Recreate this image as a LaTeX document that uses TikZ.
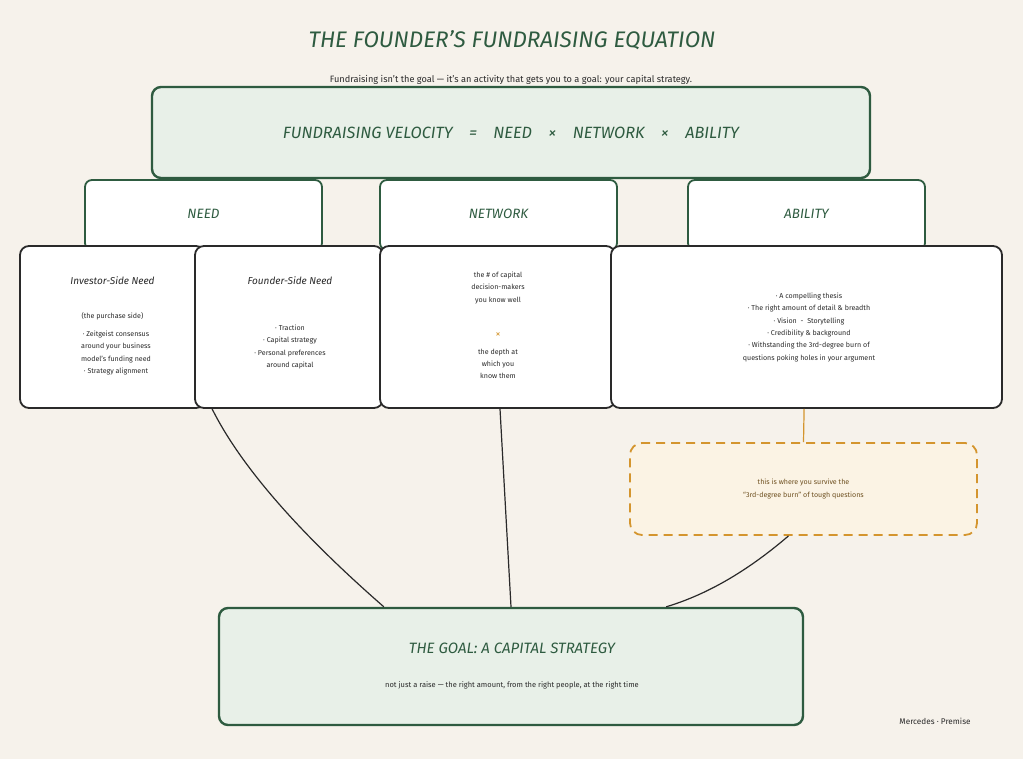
\documentclass[tikz,border=0pt]{standalone}
\usepackage{fontspec}
\setmainfont{Fira Sans}
\usetikzlibrary{positioning}
\definecolor{cbg}{HTML}{F6F2EB}
\definecolor{cgreen}{HTML}{2E5B40}
\definecolor{cgreenl}{HTML}{E8F0E8}
\definecolor{cink}{HTML}{2A2A2A}
\definecolor{corange}{HTML}{D4952E}
\definecolor{corangel}{HTML}{FBF3E4}
\definecolor{cbrown}{HTML}{6E5020}
\tikzset{
  every picture/.style={line width=1.6pt},
  panel/.style={draw=cgreen, fill=cgreenl, rounded corners=9pt, line width=2.4pt, inner sep=0pt},
  head/.style={draw=cgreen, fill=white, rounded corners=7pt, line width=1.8pt, inner sep=0pt},
  card/.style={draw=cink, fill=white, rounded corners=9pt, line width=1.8pt, inner sep=0pt},
  callout/.style={draw=corange, fill=corangel, rounded corners=12pt, dash pattern=on 9pt off 6pt, line width=1.8pt, inner sep=0pt},
  headtext/.style={text=cgreen, font=\itshape\fontsize{13.5}{15}\selectfont},
  body/.style={text=cink, align=center, inner sep=0pt, font=\fontsize{7.1}{12.4}\selectfont},
  cardtitle/.style={text=cink, inner sep=0pt, font=\itshape\fontsize{10}{12}\selectfont},
  link/.style={draw=cink, line width=1.2pt},
}
\begin{document}
\begin{tikzpicture}[x=1pt, y=-1pt]
  \fill[cbg] (0,0) rectangle (1023,759);
  \useasboundingbox (0,0) rectangle (1023,759);
  % title and subtitle
  \node[text=cgreen, font=\itshape\fontsize{22.5}{26}\selectfont] (title) at (512,40) {THE FOUNDER'S FUNDRAISING EQUATION};
  \node[text=cink, font=\fontsize{9.2}{11}\selectfont] (sub) at (511,80) {Fundraising isn't the goal — it's an activity that gets you to a goal: your capital strategy.};
  % equation panel
  \node[panel, minimum width=718pt, minimum height=91pt] (eq) at (511,132.5) {};
  \node[text=cgreen, font=\itshape\fontsize{16.3}{19}\selectfont] (eqtext) at (eq) {FUNDRAISING VELOCITY\quad=\quad NEED\quad ×\quad NETWORK\quad ×\quad ABILITY};
  % factor headers (bottoms hidden behind the cards)
  \node[head, minimum width=237pt, minimum height=70pt] (hneed) at (203.5,215) {};
  \node[head, minimum width=237pt, minimum height=70pt] (hnet) at (498.5,215) {};
  \node[head, minimum width=237pt, minimum height=70pt] (hab) at (806.5,215) {};
  \node[headtext] (tneed) at (203.5,214) {NEED};
  \node[headtext] (tnet) at (498.5,214) {NETWORK};
  \node[headtext] (tab) at (806.5,214) {ABILITY};
  % cards
  \node[card, minimum width=185pt, minimum height=162pt] (inv) at (112.5,327) {};
  \node[card, minimum width=188pt, minimum height=162pt] (fnd) at (289,327) {};
  \node[card, minimum width=235pt, minimum height=162pt] (net) at (497.5,327) {};
  \node[card, minimum width=391pt, minimum height=162pt] (abl) at (806.5,327) {};
  % investor side
  \node[cardtitle] (invtitle) at (112.5,281) {Investor-Side Need};
  \node[body] (invsub) at (112.5,316) {(the purchase side)};
  \node[body, anchor=north] (invlist) at (116,330) {· Zeitgeist consensus\\ around your business\\ model's funding need\\ · Strategy alignment};
  % founder side
  \node[cardtitle] (fndtitle) at (290,281) {Founder-Side Need};
  \node[body, anchor=north] (fndlist) at (290,324) {· Traction\\ · Capital strategy\\ · Personal preferences\\ around capital};
  % network
  \node[body, anchor=north] (netone) at (498,271) {the \# of capital\\ decision-makers\\ you know well};
  \node[text=corange, inner sep=0pt, font=\fontsize{10}{11}\selectfont] (nettimes) at (498,335) {×};
  \node[body, anchor=north] (nettwo) at (498,348) {the depth at\\ which you\\ know them};
  % ability
  \node[body, anchor=north] (abllist) at (809,292) {· A compelling thesis\\ · The right amount of detail \& breadth\\ · Vision \ - \ Storytelling\\ · Credibility \& background\\ · Withstanding the 3rd-degree burn of\\ questions poking holes in your argument};
  % callout
  \node[callout, minimum width=347pt, minimum height=92pt] (burn) at (803.5,489) {};
  \node[body, text=cbrown] (burntext) at (burn) {this is where you survive the\\ “3rd-degree burn” of tough questions};
  \draw[corange, line width=1.2pt] ([xshift=194pt]abl.south west) -- (burn.north);
  % goal
  \node[panel, minimum width=584pt, minimum height=117pt] (goal) at (511,666.5) {};
  \node[text=cgreen, font=\itshape\fontsize{15}{18}\selectfont] (goaltitle) at (512,648) {THE GOAL: A CAPITAL STRATEGY};
  \node[text=cink, font=\fontsize{7.5}{9}\selectfont] (goalsub) at (512,685) {not just a raise — the right amount, from the right people, at the right time};
  % connectors into the goal
  \draw[link] ([xshift=18pt]fnd.south west) .. controls +(28,56) and +(-87,-76) .. ([xshift=166pt]goal.north west);
  \draw[link] ([xshift=2.5pt]net.south) -- ([xshift=0pt]goal.north);
  \draw[link] ([xshift=-15pt]burn.south) .. controls +(-42,36) and +(40,-12) .. ([xshift=-138pt]goal.north east);
  % footer
  \node[text=cink, font=\fontsize{8.2}{10}\selectfont] (credit) at (935,721) {Mercedes · Premise};
\end{tikzpicture}
\end{document}
